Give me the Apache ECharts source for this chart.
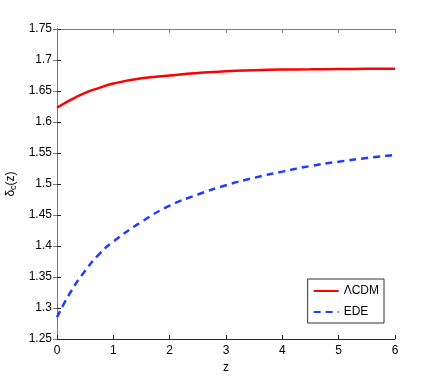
<!DOCTYPE html>
<html>
<head>
<meta charset="utf-8">
<script src="https://cdn.jsdelivr.net/npm/echarts@6/dist/echarts.min.js"></script>
<style>
html,body{margin:0;padding:0;background:#fff;}
#chart{width:436px;height:382px;}
</style>
</head>
<body>
<div id="chart"></div>
<script>
var zvals=[0,0.25,0.5,0.75,1,1.5,2,2.5,3,3.5,4,4.5,5,5.5,6];
var lcdm=[1.623,1.636,1.647,1.655,1.662,1.6705,1.675,1.679,1.682,1.6835,1.6845,1.685,1.6855,1.6858,1.686];
var ede=[1.285,1.327,1.36,1.387,1.407,1.439,1.465,1.483,1.498,1.51,1.52,1.529,1.536,1.542,1.547];
var xticks=[0,1,2,3,4,5,6];
var yticks=['1.25','1.3','1.35','1.4','1.45','1.5','1.55','1.6','1.65','1.7','1.75'];

function pairs(ys){
  return zvals.map(function(z,i){return [z,ys[i]];});
}

var chart=echarts.init(document.getElementById('chart'));
var axisCol='#262626';
var font='Liberation Sans';
var option={
  backgroundColor:'#fff',
  animation:false,
  grid:{left:57,top:29,right:41,bottom:43,containLabel:false,outerBoundsMode:'none'},
  legend:{
    orient:'vertical',
    right:52,top:279,
    borderColor:'#333',borderWidth:1,
    padding:[6,5,5,5],
    itemGap:9,
    itemWidth:25,itemHeight:12,
    itemStyle:{opacity:0},
    textStyle:{fontFamily:font,fontSize:12,color:'#000'},
    data:['\u039BCDM','EDE']
  },
  xAxis:[{
    type:'value',min:0,max:6,interval:1,
    position:'bottom',
    name:'z',nameLocation:'middle',nameGap:20,
    nameTextStyle:{fontFamily:font,fontSize:12,color:'#000'},
    axisLine:{lineStyle:{color:axisCol,width:1}},
    axisTick:{inside:true,length:4,lineStyle:{color:axisCol}},
    axisLabel:{fontFamily:font,fontSize:12,color:'#000',margin:6,
      formatter:function(v){return xticks.indexOf(v)>=0?String(v):'';}},
    splitLine:{show:false}
  },{
    type:'value',min:0,max:6,interval:1,position:'top',
    axisLine:{lineStyle:{color:'#7a7a7a',width:1}},
    axisTick:{inside:true,length:4,lineStyle:{color:'#7a7a7a'}},
    axisLabel:{show:false},splitLine:{show:false}
  }],
  yAxis:[{
    type:'value',min:1.25,max:1.75,interval:0.05,
    position:'left',
    name:'{d|\u03B4}{s|c}{d|(z)}',nameLocation:'middle',nameGap:36,
    nameTextStyle:{rich:{
      d:{fontFamily:font,fontSize:12,color:'#000'},
      s:{fontFamily:font,fontSize:9,color:'#000',padding:[6,0,0,0]}
    }},
    axisLine:{lineStyle:{color:axisCol,width:1}},
    axisTick:{inside:true,length:4,lineStyle:{color:axisCol}},
    axisLabel:{fontFamily:font,fontSize:12,color:'#000',margin:5,
      formatter:function(v){var i=Math.round((v-1.25)/0.05);return yticks[i]||'';}},
    splitLine:{show:false}
  },{
    type:'value',min:1.25,max:1.75,interval:0.05,position:'right',
    axisLine:{lineStyle:{color:'#7a7a7a',width:1}},
    axisTick:{inside:true,length:4,lineStyle:{color:'#7a7a7a'}},
    axisLabel:{show:false},splitLine:{show:false}
  }],
  series:[{
    name:'\u039BCDM',type:'line',smooth:0.5,symbol:'none',
    xAxisIndex:0,yAxisIndex:0,
    itemStyle:{color:'#ff0000'},
    lineStyle:{color:'#ff0000',width:2.5},
    data:pairs(lcdm)
  },{
    name:'EDE',type:'line',smooth:0.5,symbol:'none',
    xAxisIndex:0,yAxisIndex:0,
    itemStyle:{color:'#1f3cff'},
    lineStyle:{color:'#1f3cff',width:2.5,type:[7,5]},
    data:pairs(ede)
  }]
};
chart.setOption(option);
window.onresize=function(){chart.resize();};
</script>
</body>
</html>
